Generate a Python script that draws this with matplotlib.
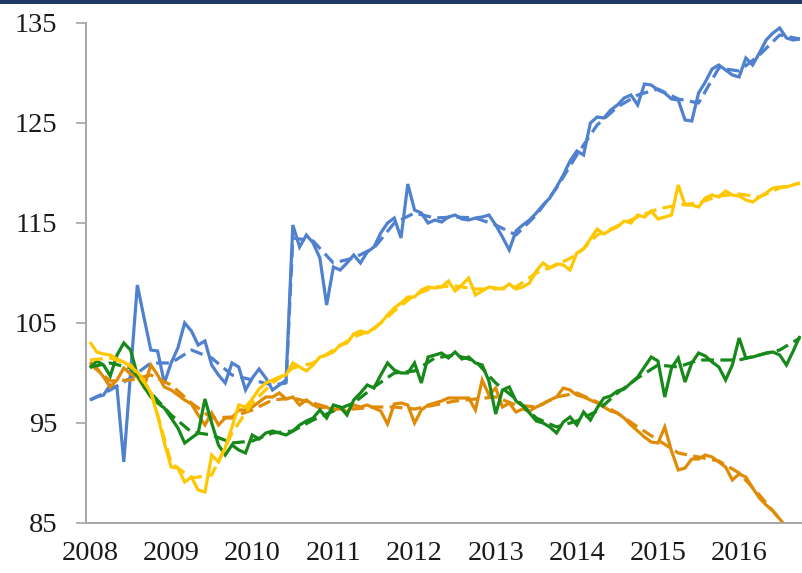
import matplotlib
matplotlib.use("Agg")
import matplotlib.pyplot as plt
from matplotlib.patches import Rectangle
import numpy as np

# ---- data (monthly, Jan 2008 = month 0) ----
blue = [97.3, 97.6, 97.8, 98.8, 98.5, 91.1, 100.0, 108.8, 105.5, 102.3,
        102.2, 99.0, 101.0, 102.5, 105.0, 104.2, 102.8, 103.2, 100.8, 99.8,
        99.0, 101.0, 100.6, 98.3, 99.5, 100.4, 99.5, 98.3, 98.8, 99.3,
        114.8, 112.6, 113.8, 113.0, 111.5, 106.8, 110.6, 110.3, 111.0, 111.8,
        111.0, 112.1, 112.6, 114.0, 115.0, 115.5, 113.5, 118.9, 116.3, 116.0,
        115.0, 115.3, 115.1, 115.6, 115.8, 115.4, 115.3, 115.5, 115.6, 115.8,
        114.8, 113.6, 112.3, 114.2, 114.8, 115.3, 116.0, 116.8, 117.5, 118.6,
        119.8, 121.2, 122.2, 121.8, 125.0, 125.6, 125.5, 126.3, 126.8, 127.5,
        127.8, 126.8, 128.9, 128.8, 128.3, 128.0, 127.4, 127.3, 125.3, 125.2,
        128.0, 129.1, 130.4, 130.8, 130.3, 129.8, 129.6, 131.5, 130.8, 132.0,
        133.3, 134.0, 134.5, 133.5, 133.3, 133.4]
yellow = [103.1, 102.1, 101.9, 101.8, 101.4, 101.1, 100.6, 100.1, 99.2, 98.0,
          95.8, 93.0, 90.6, 90.5, 89.1, 89.6, 88.3, 88.1, 91.8, 91.1,
          92.5, 94.6, 96.8, 96.6, 97.4, 98.4, 99.0, 99.3, 99.6, 99.8,
          101.0, 100.6, 100.2, 100.8, 101.6, 101.8, 102.1, 102.8, 103.0, 103.9,
          104.2, 104.0, 104.5, 105.0, 105.8, 106.5, 107.0, 107.6, 107.6, 108.3,
          108.6, 108.5, 108.6, 109.2, 108.2, 108.8, 109.5, 107.8, 108.2, 108.6,
          108.5, 108.4, 108.9, 108.4, 108.6, 109.0, 110.2, 111.0, 110.5, 110.9,
          110.8, 110.3, 112.0, 112.4, 113.4, 114.4, 113.9, 114.3, 114.6, 115.2,
          115.0, 115.8, 115.6, 116.2, 115.4, 115.6, 115.8, 118.8, 116.8, 116.8,
          116.6, 117.5, 117.8, 117.6, 118.2, 117.8, 117.7, 117.3, 117.1, 117.6,
          118.0, 118.5, 118.6, 118.6, 118.8, 119.0]
green = [100.5, 101.2, 100.8, 99.7, 101.8, 103.0, 102.3, 99.8, 98.6, 97.6,
         97.0, 96.5, 95.5, 94.5, 93.0, 93.5, 94.0, 97.4, 95.0, 92.8,
         91.8, 92.8, 92.3, 92.0, 93.8, 93.4, 94.0, 94.2, 94.0, 93.8,
         94.2, 94.8, 95.2, 95.5, 96.3, 95.5, 96.8, 96.6, 95.8, 97.3,
         98.0, 98.8, 98.5, 99.8, 101.0, 100.3, 100.0, 100.0, 101.0, 99.0,
         101.6, 101.8, 102.0, 101.5, 102.1, 101.4, 101.6, 101.0, 100.8, 99.2,
         95.9, 98.3, 98.6, 97.2, 96.7, 96.0, 95.2, 95.0, 94.6, 94.0,
         95.1, 95.6, 94.8, 96.1, 95.3, 96.5, 97.5, 97.7, 98.2, 98.4,
         99.0, 99.6, 100.6, 101.6, 101.2, 97.6, 100.5, 101.5, 99.1, 101.0,
         102.0, 101.7, 101.1, 100.6, 99.3, 100.8, 103.5, 101.5, 101.6, 101.8,
         102.0, 102.1, 101.8, 100.8, 102.2, 103.7]
orange = [101.1, 100.5, 99.6, 98.6, 99.3, 100.5, 99.9, 99.6, 98.6, 100.8,
          99.8, 98.6, 98.3, 97.8, 97.3, 96.9, 95.8, 94.8, 96.0, 94.8,
          95.5, 95.5, 96.3, 96.3, 96.6, 97.1, 97.6, 97.6, 98.0, 97.4,
          97.6, 96.8, 97.3, 96.8, 96.5, 96.6, 96.2, 96.6, 96.1, 96.8,
          96.6, 96.8, 96.5, 96.2, 94.9, 96.9, 97.0, 96.8, 95.0, 96.3,
          96.8, 97.0, 97.2, 97.5, 97.5, 97.5, 97.5, 96.3, 99.3, 97.8,
          98.5, 96.6, 97.0, 96.1, 96.4, 96.2, 96.6, 96.9, 97.3, 97.6,
          98.5, 98.3, 97.8, 97.6, 97.3, 97.0, 96.6, 96.2, 96.0, 95.5,
          94.8, 94.2, 93.6, 93.1, 93.0, 94.6, 92.2, 90.3, 90.5, 91.4,
          91.4, 91.8, 91.6, 91.1, 90.6, 89.3, 89.9, 89.6, 88.5, 87.5,
          86.8, 86.2, 85.4, 84.6]

# trend (dashed) series: month index and value
blue_trend_m = [0, 3, 6, 9, 12, 15, 18, 21, 24, 27, 29, 30, 33, 36, 39, 42, 45,
                48, 51, 54, 57, 60, 63, 66, 69, 72, 75, 78, 81, 84, 87, 90, 93,
                96, 99, 102, 105]
blue_trend = [97.3, 98.3, 99.5, 101.0, 101.0, 102.3, 101.5, 99.8, 99.3, 98.8,
              99.0, 113.5, 113.2, 111.0, 111.5, 112.5, 115.0, 116.0, 115.5,
              115.6, 115.5, 114.8, 113.8, 115.8, 118.5, 121.8, 124.8, 126.6,
              127.8, 128.4, 127.4, 127.0, 130.5, 130.2, 131.8, 133.8, 133.4]
q_m = list(range(0, 106, 3))
yellow_trend = [101.3, 101.5, 100.8, 98.2, 91.0, 89.5, 89.8, 94.0, 97.0, 99.0,
                100.5, 101.0, 102.3, 103.6, 104.4, 106.2, 107.8, 108.6, 108.7,
                108.4, 108.4, 108.6, 110.0, 110.8, 111.8, 113.8, 114.7, 115.6,
                116.4, 116.8, 117.0, 117.7, 117.9, 117.6, 118.5, 119.0]
green_trend = [100.6, 101.0, 100.5, 98.0, 95.8, 94.1, 93.8, 93.0, 93.2, 94.0,
               94.2, 95.3, 96.2, 97.0, 98.6, 100.0, 100.2, 101.5, 101.8, 101.2,
               99.0, 97.4, 95.5, 94.6, 95.2, 96.2, 98.0, 99.5, 100.8, 100.6,
               101.3, 101.3, 101.3, 101.8, 102.3, 103.5]
orange_trend_m = list(range(0, 103, 3))
orange_trend = [100.9, 99.2, 99.3, 99.8, 98.8, 97.0, 95.5, 95.6, 96.3, 97.3,
                97.5, 97.0, 96.4, 96.4, 96.6, 96.6, 96.4, 96.8, 97.2, 97.4,
                97.6, 96.8, 96.6, 97.6, 98.0, 97.1, 96.0, 94.6, 93.3, 92.0,
                91.6, 91.2, 90.0, 87.8, 85.4]

years = [2008, 2009, 2010, 2011, 2012, 2013, 2014, 2015, 2016]
yticks = [85, 95, 105, 115, 125, 135]

def to_t(months):
    return 2008 + np.asarray(months, dtype=float) / 12.0

C_BLUE = "#4F81CF"
C_YEL = "#FFC700"
C_ORG = "#DF8B06"
C_GRN = "#16891A"

plt.rcParams['font.family'] = ['Liberation Serif', 'DejaVu Serif']

fig = plt.figure(figsize=(8.02, 5.73), dpi=100)
fig.patches.append(Rectangle((0, 1 - 4 / 573), 1, 4 / 573, transform=fig.transFigure,
                             facecolor="#1F3864", edgecolor="none", zorder=0))
ax = fig.add_axes([86 / 802, 1 - 523 / 573, 1 - 86 / 802, 500 / 573])

lw = 2.3
dash = (0, (4, 2))
series = [
    (blue, blue_trend_m, blue_trend, C_BLUE),
    (orange, orange_trend_m, orange_trend, C_ORG),
    (green, q_m, green_trend, C_GRN),
    (yellow, q_m, yellow_trend, C_YEL),
]
for vals, tm, tv, c in series:
    ax.plot(to_t(range(len(vals))), vals, color=c, lw=lw, solid_joinstyle='miter',
            solid_capstyle='butt')
    ax.plot(to_t(tm), tv, color=c, lw=lw, linestyle=dash, dash_capstyle='butt')

ax.set_xlim(2008 - 0.59 / 12, 2008 + 105.3 / 12)
ax.set_ylim(85, 135)
ax.set_yticks(yticks)
ax.set_xticks(years)
ax.set_xticklabels([str(y) for y in years])

for s in ['top', 'right']:
    ax.spines[s].set_visible(False)
for s in ['left', 'bottom']:
    ax.spines[s].set_color('#A6A6A6')
    ax.spines[s].set_linewidth(1.4)

ax.tick_params(axis='y', direction='out', length=7.5, width=1.2, color='#A6A6A6',
               labelsize=20.5, pad=13, labelcolor='#1a1a1a')
ax.tick_params(axis='x', length=0, labelsize=20.5, pad=13, labelcolor='#1a1a1a')

fig.savefig("out.png", dpi=100)
